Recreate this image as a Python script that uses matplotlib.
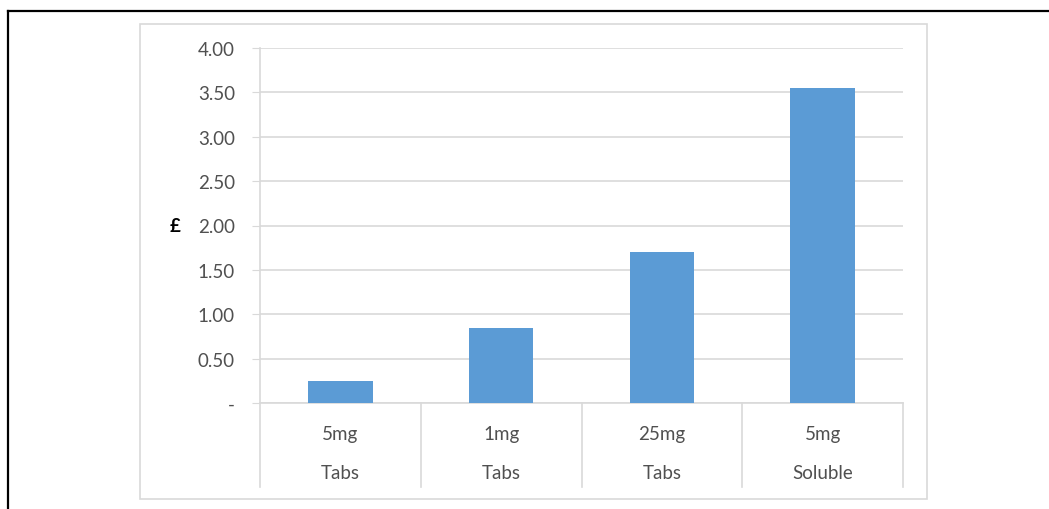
import matplotlib.pyplot as plt
from matplotlib.patches import Rectangle
from matplotlib.lines import Line2D
import matplotlib.transforms as mtransforms

plt.rcParams['font.family'] = ['Lato', 'DejaVu Sans']

strengths = ["5mg", "1mg", "25mg", "5mg"]
forms = ["Tabs", "Tabs", "Tabs", "Soluble"]
prices = [0.25, 0.85, 1.70, 3.55]
yticks = [0, 0.5, 1.0, 1.5, 2.0, 2.5, 3.0, 3.5, 4.0]
ytick_labels = ["-", "0.50", "1.00", "1.50", "2.00", "2.50", "3.00", "3.50", "4.00"]

W, H = 1049, 510
fig = plt.figure(figsize=(W / 100, H / 100), dpi=100)
grey = "#d9d9d9"
txt = "#505050"
fs = 13.5

# outer black frame (left and top only visible)
fig.add_artist(Line2D([8 / W, 8 / W], [0, 1 - 12 / H], color="black", lw=1.6))
fig.add_artist(Line2D([8 / W, 1], [1 - 12 / H, 1 - 12 / H], color="black", lw=1.6))
# chart area border
fig.add_artist(Rectangle((140 / W, 10 / H), 787 / W, 475 / H, fill=False,
                         edgecolor=grey, lw=1.2))

ax = fig.add_axes([260 / W, 106 / H, 643 / W, 355 / H])
x = range(len(prices))
ax.bar(x, prices, width=0.4, color="#5b9bd5", zorder=3)
ax.set_xlim(-0.5, len(prices) - 0.5)
ax.set_ylim(0, 4)
ax.set_yticks(yticks)
ax.set_yticklabels(ytick_labels)
ax.yaxis.grid(True, color=grey, lw=1.2, zorder=0)
ax.tick_params(axis="y", length=6, color=grey, labelsize=fs, labelcolor=txt, pad=12)
ax.set_xticks([])
for s in ["top", "right"]:
    ax.spines[s].set_visible(False)
for s in ["left", "bottom"]:
    ax.spines[s].set_color(grey)
    ax.spines[s].set_linewidth(1.2)

ax.text(-0.132, 0.5, "£", transform=ax.transAxes, fontsize=fs, color="black",
        fontweight="bold", ha="center", va="center")

# multi-level category axis
trans = mtransforms.blended_transform_factory(ax.transData, ax.transAxes)
for b in range(len(prices) + 1):
    ax.add_line(Line2D([b - 0.5, b - 0.5], [0, -84 / 355], transform=trans,
                       color=grey, lw=1.2, clip_on=False))
for i in x:
    ax.text(i, -31 / 355, strengths[i], transform=trans, ha="center", va="center",
            fontsize=fs, color=txt)
    ax.text(i, -70 / 355, forms[i], transform=trans, ha="center", va="center",
            fontsize=fs, color=txt)

fig.savefig("out.png", dpi=100)
